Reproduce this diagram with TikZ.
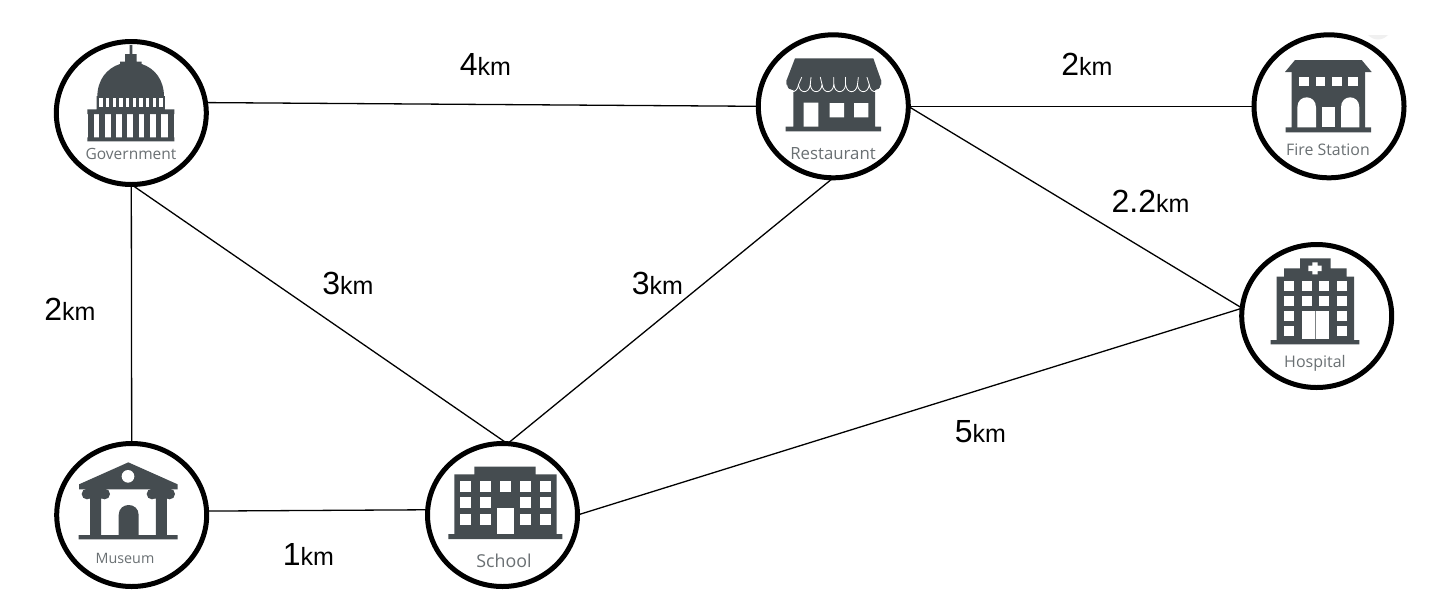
\documentclass[tikz,border=0pt]{standalone}
\usepackage{fontspec}
\setmainfont{Liberation Sans}
\newfontfamily\iconfont{Open Sans}
\usetikzlibrary{shapes.geometric}
\definecolor{icondark}{HTML}{454C50}
\definecolor{icontext}{HTML}{6A7073}
\tikzset{
  site/.style={ellipse,draw=black,line width=5pt,fill=none,minimum width=150pt,minimum height=143pt,inner sep=0pt,outer sep=0pt},
  road/.style={draw=black,line width=1.3pt},
  dist/.style={inner sep=0pt,text=black},
  sitename/.style={inner sep=0pt,text=icontext,font=\iconfont\fontsize{#1}{18}\selectfont},
  ink/.style={fill=icondark,draw=none},
  hole/.style={fill=white,draw=none},
  zoomed/.style={x=0.33333pt,y=-0.33333pt}
}
\newcommand{\km}[1]{\fontsize{32}{35}\selectfont #1\fontsize{25}{28}\selectfont km}
\begin{document}
\begin{tikzpicture}[x=1pt,y=-1pt]
\useasboundingbox (0,0) rectangle (1438,614);
\fill[white] (0,0) rectangle (1438,614);
\fill[black!6] (1368,35) .. controls (1374,41) and (1382,41) .. (1388,35) -- cycle;

% Government icon
\begin{scope}[shift={(40,30)},zoomed]
\path[ink] (269,45) rectangle (277,75) (255,72) rectangle (290,97) (240,95) rectangle (305,106);
\path[ink] (172,200) .. controls (172,150) and (200,115) .. (240,102) -- (305,102) .. controls (345,115) and (372,150) .. (372,200) -- cycle;
\path[ink] (170,198) rectangle (375,240) (142,238) rectangle (403,252) (142,322) rectangle (403,334);
\foreach \x in {178,198,218,238,258,278,298,318,338,358}{\path[hole] (\x,205) rectangle +(10,25);}
\foreach \x in {145,178,212,246,280,313,347,385}{\path[ink] (\x,250) rectangle +(16,74);}
\end{scope}

% Restaurant icon
\begin{scope}[shift={(745,30)},zoomed]
\path[ink] (150,85) -- (385,85) -- (408,150) -- (408,165) -- (125,165) -- (125,150) -- cycle;
\path[ink] (145,170) rectangle (390,292) (122,290) rectangle (408,304);
\foreach \x in {125,160.4,195.8,231.2,266.6,302,337.4,372.8}{\path[ink] (\x,150) -- (\x,162) .. controls (\x,186) and (\x+35.4,186) .. (\x+35.4,162) -- (\x+35.4,150) -- cycle;}
\foreach \x/\t in {160.4/170,195.8/198,231.2/226,266.6/266,302/302,337.4/340,372.8/366}{\draw[white,line width=0.8pt,line cap=round] (\t,142) -- (\x,164);}
\foreach \x in {125,160.4,195.8,231.2,266.6,302,337.4,372.8}{\draw[white,line width=0.8pt] (\x,164) .. controls (\x+3,192) and (\x+32,192) .. (\x+35.4,164);}
\path[hole] (176,218) rectangle (220,290) (254,219) rectangle (297,262) (327,219) rectangle (370,262);
\end{scope}

% Fire station icon
\begin{scope}[shift={(1240,20)},zoomed]
\path[ink] (165,120) -- (365,120) -- (395,156) -- (135,156) -- cycle;
\path[ink] (155,154) rectangle (375,324) (137,322) rectangle (393,337);
\foreach \x in {178,227,277,325}{\path[hole] (\x,170) rectangle +(29,27);}
\path[hole] (172,322) -- (172,262) .. controls (172,222) and (228,222) .. (228,262) -- (228,322) -- cycle;
\path[hole] (303,322) -- (303,262) .. controls (303,222) and (358,222) .. (358,262) -- (358,322) -- cycle;
\path[hole] (247,262) rectangle (285,322);
\end{scope}

% Hospital icon
\begin{scope}[shift={(1230,235)},zoomed]
\path[ink] (210,70) rectangle (302,102) (162,100) rectangle (350,128) (140,125) rectangle (372,317) (122,315) rectangle (388,328);
\path[hole] (235,92) rectangle (275,108) (247,82) rectangle (263,118);
\foreach \x in {162,215,267,320}{\foreach \y in {138,183}{\path[hole] (\x,\y) rectangle +(31,30);}}
\foreach \x in {162,320}{\foreach \y in {228,273}{\path[hole] (\x,\y) rectangle +(31,30);}}
\path[hole] (215,228) rectangle (298,312);
\path[fill=icondark!70] (255,228) rectangle (258,312);
\end{scope}

% Museum icon
\begin{scope}[shift={(40,430)},zoomed]
\path[ink] (265,97) -- (413,163) -- (413,178) -- (117,178) -- (117,163) -- cycle;
\path[hole] (264,139) circle[radius=19];
\path[ink] (141,192) circle[radius=16] (194,192) circle[radius=16] (336,192) circle[radius=16] (389,192) circle[radius=16];
\path[ink] (141,176) rectangle (194,206) (336,176) rectangle (389,206);
\path[ink] (150,200) rectangle (183,317) (348,200) rectangle (381,317) (116,315) rectangle (413,328);
\path[ink] (236,317) -- (236,255) .. controls (236,215) and (296,215) .. (296,255) -- (296,317) -- cycle;
\end{scope}

% School icon
\begin{scope}[shift={(415,430)},zoomed]
\path[ink] (178,110) rectangle (362,135) (118,133) rectangle (425,314) (100,312) rectangle (442,327);
\foreach \x in {135,195,315,375}{\foreach \y in {152,202,252}{\path[hole] (\x,\y) rectangle +(33,33);}}
\path[hole] (255,152) rectangle +(33,33);
\path[hole] (245,235) rectangle (298,312);
\end{scope}

% Sites
\node[site] (gov) at (131.3,113) {};
\node[site] (rest) at (833.3,106.3) {};
\node[site] (fire) at (1329,106.3) {};
\node[site] (hosp) at (1316.7,316) {};
\node[site] (mus) at (131.7,515) {};
\node[site] (sch) at (502.5,515) {};

% Site names
\node[sitename=15.5] (govname) at (131,153.5) {Government};
\node[sitename=16.8] (restname) at (833,153.5) {Restaurant};
\node[sitename=15.9] (firename) at (1328,149.5) {Fire Station};
\node[sitename=16] (hospname) at (1315,363) {Hospital};
\node[sitename=14.3] (musname) at (125,558.5) {Museum};
\node[sitename=17.8] (schname) at (504,561) {School};

% Roads
\draw[road] (gov.8) -- (rest.west);
\draw[road] (rest.east) -- (fire.west);
\draw[road] (rest.east) -- (hosp.174);
\draw[road] (sch.east) -- (hosp.174);
\draw[road] (gov.south) -- (sch.86);
\draw[road] (rest.south) -- (sch.86);
\draw[road] (gov.south) -- (mus.north);
\draw[road] (mus.3) -- (sch.176);

% Distances
\node[dist] (d1) at (485.5,64) {\km{4}};
\node[dist] (d2) at (1087,64) {\km{2}};
\node[dist] (d3) at (1150.5,201) {\km{2.2}};
\node[dist] (d4) at (348,283) {\km{3}};
\node[dist] (d5) at (657.5,283) {\km{3}};
\node[dist] (d6) at (70,309) {\km{2}};
\node[dist] (d7) at (980.5,432) {\km{5}};
\node[dist] (d8) at (308.5,554) {\km{1}};
\end{tikzpicture}
\end{document}
